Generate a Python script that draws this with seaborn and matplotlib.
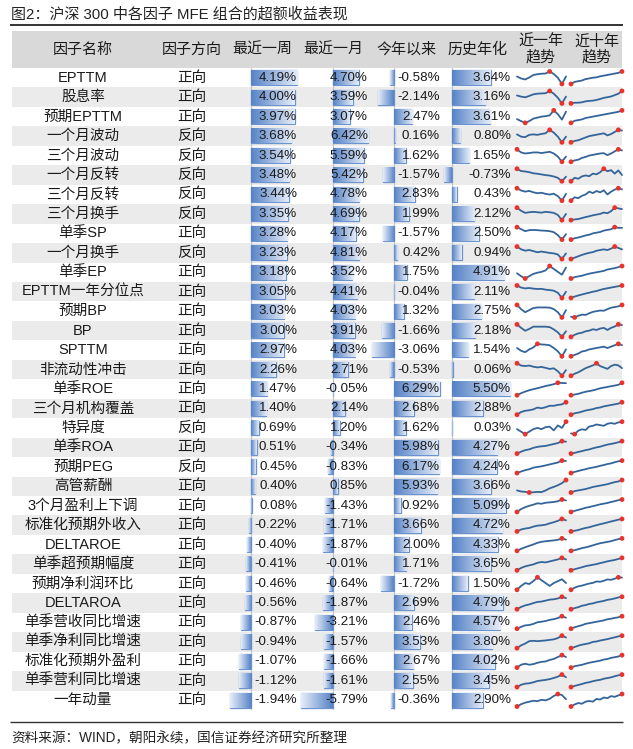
import numpy as np
import pandas as pd
import seaborn as sns
import matplotlib.pyplot as plt
from matplotlib.patches import Rectangle
from matplotlib.colors import LinearSegmentedColormap

sns.set_theme(style="white")
plt.rcParams["font.family"] = ["Liberation Sans", "Noto Sans CJK SC"]

# --- data ---
factor_names = [
    "EPTTM", "股息率", "预期EPTTM", "一个月波动", "三个月波动", "一个月反转",
    "三个月反转", "三个月换手", "单季SP", "一个月换手", "单季EP", "EPTTM一年分位点",
    "预期BP", "BP", "SPTTM", "非流动性冲击", "单季ROE", "三个月机构覆盖", "特异度",
    "单季ROA", "预期PEG", "高管薪酬", "3个月盈利上下调", "标准化预期外收入",
    "DELTAROE", "单季超预期幅度", "预期净利润环比", "DELTAROA", "单季营收同比增速",
    "单季净利同比增速", "标准化预期外盈利", "单季营利同比增速", "一年动量",
]
directions = [
    "正向", "正向", "正向", "反向", "反向", "反向", "反向", "反向", "正向", "反向",
    "正向", "正向", "正向", "正向", "正向", "正向", "正向", "正向", "反向", "正向",
    "反向", "正向", "正向", "正向", "正向", "正向", "正向", "正向", "正向", "正向",
    "正向", "正向", "正向",
]
ret_week = [4.19, 4.00, 3.97, 3.68, 3.54, 3.48, 3.44, 3.35, 3.28, 3.23, 3.18, 3.05,
            3.03, 3.00, 2.97, 2.26, 1.47, 1.40, 0.69, 0.51, 0.45, 0.40, 0.08, -0.22,
            -0.40, -0.41, -0.46, -0.56, -0.87, -0.94, -1.07, -1.12, -1.94]
ret_month = [4.70, 3.59, 3.07, 6.42, 5.59, 5.42, 4.78, 4.69, 4.17, 4.81, 3.52, 4.41,
             4.03, 3.91, 4.03, 2.71, -0.05, 2.14, 1.20, -0.34, -0.83, 0.85, -1.43, -1.71,
             -1.87, -0.01, -0.64, -1.87, -3.21, -1.57, -1.66, -1.61, -5.79]
ret_ytd = [-0.58, -2.14, 2.47, 0.16, 1.62, -1.57, 2.83, 1.99, -1.57, 0.42, 1.75, -0.04,
           1.32, -1.66, -3.06, -0.53, 6.29, 2.68, 1.62, 5.98, 6.17, 5.93, 0.92, 3.66,
           2.00, 1.71, -1.72, 2.69, 2.46, 3.53, 2.67, 2.55, -0.36]
ret_hist = [3.64, 3.16, 3.61, 0.80, 1.65, -0.73, 0.43, 2.12, 2.50, 0.94, 4.91, 2.11,
            2.75, 2.18, 1.54, 0.06, 5.50, 2.88, 0.03, 4.27, 4.24, 3.66, 5.09, 4.72,
            4.33, 3.65, 1.50, 4.79, 4.57, 3.80, 4.02, 3.45, 2.90]

# sparkline shapes (cumulative excess return, relative units)
trend_1y = [
    [5.0, 4.2, 3.8, 4.6, 5.6, 5.9, 6.1, 6.2, 7.0, 6.0, 4.5, 2.0, 5.0],
    [5.0, 4.5, 4.2, 4.8, 5.5, 5.8, 5.9, 6.0, 7.0, 5.8, 4.0, 1.5, 4.5],
    [3.0, 2.2, 1.5, 2.2, 3.2, 3.6, 4.0, 4.2, 4.5, 6.5, 5.0, 2.8, 6.0],
    [5.0, 4.0, 3.8, 4.8, 5.0, 4.8, 5.2, 5.5, 7.0, 5.8, 4.0, 1.5, 4.0],
    [8.0, 6.5, 6.0, 6.2, 6.5, 6.5, 6.2, 6.5, 6.8, 6.0, 4.5, 2.0, 4.5],
    [8.0, 7.0, 6.8, 6.5, 6.0, 5.8, 5.5, 5.2, 5.0, 4.6, 4.0, 2.5, 4.5],
    [8.0, 7.0, 6.5, 6.8, 6.2, 5.8, 6.0, 5.5, 5.2, 5.6, 4.5, 2.5, 5.5],
    [8.0, 6.5, 5.5, 5.8, 6.0, 5.8, 5.6, 6.0, 5.8, 5.5, 4.5, 2.0, 5.0],
    [8.0, 7.0, 6.0, 6.5, 6.6, 6.5, 6.3, 6.2, 6.0, 5.5, 4.0, 1.8, 4.5],
    [8.0, 6.8, 6.2, 6.5, 6.0, 5.5, 5.8, 5.5, 5.2, 5.0, 4.5, 2.5, 5.0],
    [3.0, 2.0, 1.2, 2.0, 2.8, 3.2, 3.5, 4.0, 5.5, 4.5, 3.5, 2.5, 5.0],
    [8.0, 7.0, 6.6, 6.8, 6.5, 6.3, 6.4, 6.0, 5.8, 5.5, 4.5, 2.0, 5.0],
    [8.0, 6.0, 4.5, 5.5, 6.5, 6.8, 6.8, 6.8, 6.7, 6.0, 4.5, 2.0, 5.5],
    [8.0, 6.5, 5.2, 6.0, 7.0, 7.0, 7.0, 7.0, 6.8, 5.8, 4.5, 2.5, 5.0],
    [5.0, 4.0, 3.5, 4.5, 5.2, 6.5, 6.3, 6.2, 6.0, 5.0, 3.8, 2.0, 4.5],
    [8.0, 7.0, 6.8, 7.0, 6.5, 6.2, 6.4, 6.0, 5.5, 5.8, 4.5, 2.5, 5.0],
    [0.0, 1.0, 1.8, 2.5, 3.0, 3.5, 4.0, 4.6, 5.0, 5.5, 6.2, 6.1, 6.0],
    [0.0, 1.5, 2.2, 2.5, 3.0, 4.0, 3.6, 4.2, 5.0, 5.0, 5.5, 5.8, 7.0],
    [3.0, 2.0, 1.0, 2.0, 3.0, 3.5, 3.0, 3.8, 4.0, 2.5, 4.5, 3.5, 6.0],
    [0.0, 1.0, 1.8, 2.2, 3.0, 3.5, 3.8, 4.0, 4.5, 5.0, 5.5, 6.5, 6.2],
    [0.0, 0.8, 1.5, 2.0, 2.8, 3.2, 3.5, 4.0, 4.5, 5.0, 5.5, 6.5, 6.3],
    [1.5, 1.0, 0.8, 0.5, 0.6, 0.8, 0.7, 1.5, 2.5, 3.2, 4.0, 5.0, 6.5],
    [0.0, 1.5, 2.5, 3.2, 3.8, 4.5, 4.3, 4.8, 5.0, 5.2, 5.6, 6.5, 6.0],
    [0.0, 1.0, 1.5, 1.8, 2.5, 3.0, 3.2, 3.5, 4.2, 4.8, 5.5, 6.5, 5.8],
    [0.0, 1.0, 1.8, 2.5, 3.2, 4.0, 4.5, 4.8, 5.0, 5.2, 5.5, 6.2, 5.6],
    [0.0, 1.2, 2.0, 2.5, 3.0, 3.8, 4.2, 4.0, 4.5, 5.0, 5.5, 6.3, 5.5],
    [0.0, 2.0, 3.5, 3.0, 4.5, 6.5, 5.0, 3.5, 2.0, 3.5, 4.5, 5.5, 3.5],
    [0.0, 1.2, 2.0, 2.5, 3.2, 3.8, 4.0, 4.5, 5.0, 5.2, 5.6, 6.5, 5.8],
    [0.0, 1.0, 1.8, 2.0, 2.6, 3.5, 3.8, 4.2, 4.8, 5.2, 5.8, 6.8, 6.0],
    [0.0, 1.5, 2.5, 3.8, 4.0, 3.8, 4.0, 4.2, 4.5, 4.8, 5.5, 6.8, 5.8],
    [0.0, 1.5, 2.0, 1.5, 1.8, 2.5, 3.0, 3.2, 4.0, 4.5, 5.5, 6.5, 5.5],
    [0.0, 1.2, 1.8, 2.0, 2.5, 3.2, 3.5, 3.8, 4.2, 4.8, 5.5, 6.6, 5.2],
    [0.0, 1.2, 2.0, 2.5, 3.0, 2.8, 3.5, 3.2, 4.0, 5.5, 6.5, 6.0, 3.8],
]
trend_10y = [
    [0, 1.5, 2.0, 2.5, 3.5, 4.0, 4.5, 4.8, 5.5, 6.0, 6.5, 7.0, 7.5, 8.0, 9.0],
    [0, 0.5, 0.5, 0.8, 1.5, 1.8, 2.0, 2.5, 3.2, 4.0, 4.5, 5.0, 6.0, 7.0, 9.0],
    [0, 1.5, 2.0, 2.5, 3.5, 4.0, 4.5, 5.0, 5.5, 6.0, 6.5, 7.0, 7.5, 8.0, 9.0],
    [0, 1.0, 1.5, 2.5, 3.5, 4.5, 5.0, 5.5, 6.0, 6.5, 5.0, 6.0, 7.5, 9.0, 8.5],
    [0, 1.0, 1.5, 2.8, 3.5, 4.5, 5.0, 5.5, 6.0, 6.2, 4.8, 6.0, 7.5, 9.0, 8.2],
    [0, 2.5, 1.8, 3.5, 4.2, 3.6, 5.5, 5.0, 6.5, 9.0, 7.2, 8.0, 5.5, 7.8, 4.5],
    [0, 2.5, 1.8, 3.5, 4.5, 6.5, 5.5, 7.0, 6.0, 7.5, 4.5, 6.5, 8.0, 9.0, 8.2],
    [0, 0.5, 0.8, 1.5, 2.2, 2.8, 3.5, 4.0, 4.5, 5.5, 5.0, 6.5, 9.0, 8.5, 8.0],
    [0, 1.0, 1.5, 2.2, 3.0, 3.5, 4.5, 5.0, 5.5, 6.5, 7.0, 7.5, 9.0, 8.5, 8.5],
    [0, 1.0, 2.0, 3.0, 3.8, 4.5, 5.0, 6.0, 6.5, 7.0, 6.5, 7.5, 9.0, 8.0, 7.0],
    [0, 1.0, 1.5, 2.0, 2.8, 3.5, 4.0, 4.5, 5.0, 5.5, 6.5, 7.0, 7.5, 8.2, 9.0],
    [0, 1.0, 1.8, 2.5, 3.2, 3.8, 4.5, 5.0, 5.8, 6.5, 7.0, 7.5, 8.0, 8.5, 9.0],
    [0.5, 0, 1.2, 2.0, 1.8, 3.0, 4.0, 4.5, 5.0, 4.8, 6.0, 7.0, 7.5, 8.0, 9.0],
    [0, 1.5, 2.5, 3.0, 4.0, 4.5, 5.5, 5.0, 6.0, 6.5, 5.0, 6.5, 7.5, 9.0, 8.5],
    [0, 1.0, 2.0, 3.5, 4.0, 5.0, 5.5, 6.0, 6.5, 7.0, 6.0, 7.0, 8.0, 9.0, 8.0],
    [0, 1.5, 2.5, 4.0, 5.5, 6.5, 7.5, 9.0, 7.0, 6.0, 5.0, 7.0, 8.0, 7.5, 5.5],
    [0, 0.5, 1.0, 1.8, 2.5, 3.0, 3.5, 4.2, 5.0, 5.5, 6.0, 6.5, 7.0, 7.5, 9.0],
    [0, 1.0, 1.5, 2.2, 3.0, 3.5, 4.0, 4.8, 5.2, 6.0, 6.5, 7.0, 7.5, 8.0, 9.0],
    [0.5, 0, 2.5, 3.5, 3.0, 5.5, 6.0, 7.0, 6.5, 6.0, 7.5, 8.0, 7.5, 8.5, 9.0],
    [0, 0.5, 1.2, 1.8, 2.5, 3.0, 3.8, 4.5, 5.0, 5.8, 6.5, 7.0, 7.5, 8.2, 9.0],
    [0, 0.8, 1.5, 2.2, 2.8, 3.5, 4.0, 4.5, 5.2, 5.8, 6.5, 7.0, 7.8, 8.5, 9.0],
    [0, 1.0, 1.5, 2.0, 2.5, 3.2, 4.0, 4.5, 5.0, 5.5, 6.0, 6.8, 7.5, 8.0, 9.0],
    [0, 0.8, 1.5, 2.2, 3.0, 3.5, 4.2, 4.8, 5.5, 6.0, 6.5, 7.2, 7.8, 8.5, 9.0],
    [0, 0.5, 1.0, 1.8, 2.5, 3.0, 3.8, 4.5, 5.2, 5.8, 6.5, 7.2, 7.8, 8.5, 9.0],
    [0, 0.5, 1.2, 2.0, 2.5, 3.2, 4.0, 4.8, 5.5, 6.0, 6.5, 7.0, 7.8, 8.5, 9.0],
    [0, 0.8, 1.5, 2.2, 3.0, 3.5, 4.0, 4.5, 5.2, 5.8, 6.5, 7.0, 7.5, 8.2, 9.0],
    [0, 1.5, 2.5, 3.0, 3.8, 4.5, 5.0, 6.0, 5.8, 6.5, 7.5, 7.2, 8.0, 9.0, 8.8],
    [0, 0.8, 1.5, 2.5, 3.0, 3.8, 4.2, 5.0, 5.5, 6.0, 6.8, 7.2, 7.8, 8.5, 9.0],
    [0, 1.0, 1.8, 2.5, 3.5, 4.0, 4.5, 5.0, 5.5, 6.0, 6.8, 7.2, 7.8, 8.2, 9.0],
    [0, 0.8, 1.8, 2.5, 3.0, 3.5, 4.5, 4.8, 5.5, 6.0, 6.5, 7.2, 7.8, 8.5, 9.0],
    [0, 1.0, 1.5, 2.0, 2.8, 3.5, 4.0, 4.5, 5.0, 5.8, 6.2, 7.0, 7.5, 8.0, 9.0],
    [0, 0.8, 1.5, 2.2, 3.0, 3.5, 4.2, 4.8, 5.2, 6.0, 6.5, 7.0, 7.8, 8.5, 9.0],
    [0, 1.5, 2.5, 2.0, 3.5, 4.0, 3.5, 5.5, 5.0, 6.5, 6.0, 7.5, 7.0, 8.0, 9.0],
]

headers = ["因子名称", "因子方向", "最近一周", "最近一月", "今年以来", "历史年化",
           "近一年\n趋势", "近十年\n趋势"]
title = "图2：沪深 300 中各因子 MFE 组合的超额收益表现"
source = "资料来源：WIND，朝阳永续，国信证券经济研究所整理"

df = pd.DataFrame({"因子名称": factor_names, "因子方向": directions,
                   "最近一周": ret_week, "最近一月": ret_month,
                   "今年以来": ret_ytd, "历史年化": ret_hist})

# --- layout (pixels, origin top-left) ---
W, H = 633, 749
fig = plt.figure(figsize=(W / 100, H / 100), dpi=100)
fig.patch.set_facecolor("white")


def px_axes(x0, y0, x1, y1):
    a = fig.add_axes([x0 / W, 1 - y1 / H, (x1 - x0) / W, (y1 - y0) / H])
    a.patch.set_alpha(0)
    a.axis("off")
    return a


bg = px_axes(0, 0, W, H)
bg.set_xlim(0, W)
bg.set_ylim(H, 0)

n = len(df)
TOP, BOTTOM = 68, 710
RH = (BOTTOM - TOP) / n
LEFT, RIGHT = 12, 622
TEXT = "#1a1a1a"

bg.plot([10, 623], [24.5, 24.5], color="#333333", lw=1.4, solid_capstyle="butt")
bg.add_patch(Rectangle((LEFT, 30.5), RIGHT - LEFT, TOP - 30.5, color="#d9d9d9", lw=0))
for i in range(n):
    if i % 2 == 1:
        bg.add_patch(Rectangle((LEFT, TOP + i * RH), RIGHT - LEFT, RH,
                               color="#ebebeb", lw=0))
bg.plot([10, 623], [721.5, 721.5], color="#333333", lw=1.0, solid_capstyle="butt")

# --- data bar columns: (column, axis px, px per 1%, text right px) ---
bar_cols = [("最近一周", 251, 11.0, 297),
            ("最近一月", 333, 5.5, 368),
            ("今年以来", 394, 7.3, 440),
            ("历史年化", 452, 10.6, 511)]
bar_cmap = LinearSegmentedColormap.from_list("databar", ["#5582c6", "#e6edf8"])
grad = np.linspace(0, 1, 128).reshape(1, -1)
BAR_H = 0.76

for col, x_axis, scale, _ in bar_cols:
    x0, x1 = x_axis - 45, x_axis + 65
    ax = px_axes(x0, TOP, x1, BOTTOM)
    sns.barplot(data=df, x=col, y="因子名称", orient="h", ax=ax, fill=False,
                color="#6a93d0", linewidth=0.9, width=BAR_H, errorbar=None)
    for i, v in enumerate(df[col]):
        ax.imshow(grad, cmap=bar_cmap, aspect="auto", interpolation="bilinear",
                  extent=(0, v, i + BAR_H / 2, i - BAR_H / 2), zorder=1)
    ax.axvline(0, color="#c4c4c4", lw=0.9, zorder=0)
    ax.set_xlim((x0 - x_axis) / scale, (x1 - x_axis) / scale)
    ax.set_ylim(n - 0.5, -0.5)
    ax.axis("off")

# --- sparklines ---
LINE = "#34659a"
RED = "#e8332a"
spark_cols = [(trend_1y, 517, 566), (trend_10y, 571, 622)]
for series_list, sx0, sx1 in spark_cols:
    for i, s in enumerate(series_list):
        y0 = TOP + i * RH + 3.5
        a = px_axes(sx0, y0, sx1, y0 + RH - 7)
        xs = np.arange(len(s))
        sns.lineplot(x=xs, y=s, ax=a, color=LINE, lw=1.3, clip_on=False)
        ext = [int(np.argmin(s)), int(np.argmax(s))]
        sns.scatterplot(x=xs[ext], y=np.asarray(s)[ext], ax=a, color=RED, s=12,
                        edgecolor="none", zorder=3, clip_on=False)
        a.set_xlim(0, len(s) - 1)
        a.set_ylim(min(s), max(s))
        a.axis("off")

# --- text overlay ---
top = px_axes(0, 0, W, H)
top.set_xlim(0, W)
top.set_ylim(H, 0)

top.text(11, 14, title, fontsize=10.8, color="#222222", va="center", ha="left")
top.text(11, 738, source, fontsize=9.8, color="#222222", va="center", ha="left")

header_x = [83, 192, 262, 333, 406, 478, 541, 597]
for hx, label in zip(header_x, headers):
    top.text(hx, 49.5, label, fontsize=10.8, color=TEXT, ha="center", va="center",
             linespacing=1.15)

for i in range(n):
    yc = TOP + (i + 0.5) * RH
    top.text(83, yc, df["因子名称"][i], fontsize=10.5, color=TEXT,
             ha="center", va="center")
    top.text(192, yc, df["因子方向"][i], fontsize=10.5, color=TEXT,
             ha="center", va="center")
    for col, _, _, tx in bar_cols:
        top.text(tx, yc, f"{df[col][i]:.2f}%", fontsize=9.6, color=TEXT,
                 ha="right", va="center")

fig.savefig("out.png", dpi=100, facecolor="white")
plt.close(fig)
